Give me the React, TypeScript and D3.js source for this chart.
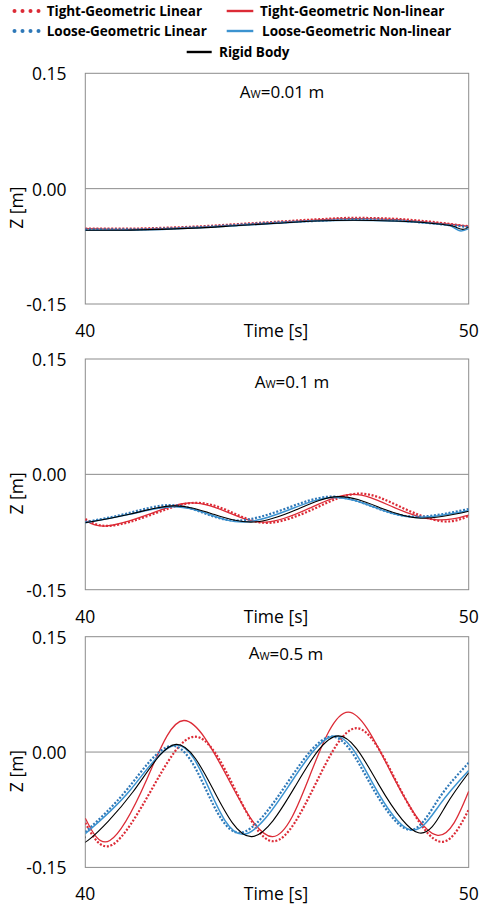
import React from "react";
import * as d3 from "d3";

type Pt = [number, number];

// x / y ticks
const timeTicks = [40, 50];
const zTicks = [-0.15, 0, 0.15];

// legend labels (series order)
const seriesNames = [
  "Tight-Geometric Linear",
  "Tight-Geometric Non-linear",
  "Loose-Geometric Linear",
  "Loose-Geometric Non-linear",
  "Rigid Body",
];

const waveAmps = ["0.01", "0.1", "0.5"];

// ---- Aw = 0.01 m  [time s, Z m]
const a001TightLinear: Pt[] = [[40, -0.052], [41, -0.052], [42, -0.051], [43, -0.049], [44, -0.046], [45, -0.043], [46, -0.040], [47, -0.038], [48, -0.039], [49, -0.043], [50, -0.049]];
const a001TightNonlinear: Pt[] = [[40, -0.052], [41, -0.053], [42, -0.052], [43, -0.050], [44, -0.047], [45, -0.044], [46, -0.041], [47, -0.039], [48, -0.040], [49, -0.044], [50, -0.049]];
const a001LooseLinear: Pt[] = [[40, -0.053], [41, -0.053], [42, -0.052], [43, -0.050], [44, -0.047], [45, -0.044], [46, -0.042], [47, -0.040], [48, -0.041], [49, -0.045], [50, -0.050]];
const a001LooseNonlinear: Pt[] = [[40, -0.054], [41, -0.054], [42, -0.053], [43, -0.051], [44, -0.048], [45, -0.045], [46, -0.042], [47, -0.041], [48, -0.042], [49, -0.045], [49.5, -0.048], [49.8, -0.055], [50, -0.052]];
const a001Rigid: Pt[] = [[40, -0.054], [41, -0.054], [42, -0.053], [43, -0.051], [44, -0.048], [45, -0.045], [46, -0.042], [47, -0.041], [48, -0.042], [49, -0.045], [49.6, -0.049], [49.85, -0.053], [50, -0.050]];

// ---- Aw = 0.1 m
const a01TightLinear: Pt[] = [[40, -0.058], [40.64, -0.067], [41.75, -0.052], [42.86, -0.037], [43.85, -0.050], [44.8, -0.063], [46.0, -0.044], [47.15, -0.025], [48.25, -0.043], [49.3, -0.061], [50, -0.054]];
const a01TightNonlinear: Pt[] = [[40, -0.060], [40.56, -0.067], [41.65, -0.052], [42.75, -0.037], [43.75, -0.050], [44.73, -0.062], [45.85, -0.044], [46.98, -0.026], [48.05, -0.043], [49.12, -0.059], [50, -0.053]];
const a01LooseLinear: Pt[] = [[40, -0.062], [41.08, -0.051], [42.17, -0.040], [43.08, -0.050], [44.0, -0.060], [45.2, -0.045], [46.4, -0.029], [47.5, -0.042], [48.6, -0.055], [50, -0.045]];
const a01LooseNonlinear: Pt[] = [[40, -0.063], [41.15, -0.052], [42.3, -0.042], [43.23, -0.052], [44.17, -0.062], [45.32, -0.046], [46.47, -0.030], [47.55, -0.043], [48.62, -0.056], [50, -0.047]];
const a01Rigid: Pt[] = [[40, -0.063], [41.15, -0.052], [42.3, -0.041], [43.35, -0.052], [44.4, -0.062], [45.5, -0.046], [46.6, -0.029], [47.67, -0.043], [48.75, -0.057], [50, -0.048]];

// ---- Aw = 0.5 m
const a05TightLinear: Pt[] = [[40, -0.092], [40.69, -0.121], [41.75, -0.047], [42.86, 0.020], [43.9, -0.048], [44.92, -0.116], [46.0, -0.042], [47.08, 0.031], [48.15, -0.042], [49.21, -0.116], [50, -0.075]];
const a05TightNonlinear: Pt[] = [[40, -0.086], [40.64, -0.115], [41.6, -0.036], [42.57, 0.041], [43.73, -0.035], [44.89, -0.110], [45.87, -0.029], [46.86, 0.052], [48.0, -0.029], [49.17, -0.108], [50, -0.051]];
const a05LooseLinear: Pt[] = [[40, -0.104], [41.1, -0.048], [42.25, 0.008], [43.14, -0.048], [44.03, -0.105], [45.23, -0.043], [46.43, 0.020], [47.43, -0.041], [48.43, -0.101], [49.2, -0.062], [50, -0.014]];
const a05LooseNonlinear: Pt[] = [[40, -0.106], [41.18, -0.049], [42.36, 0.009], [43.24, -0.049], [44.12, -0.107], [45.32, -0.043], [46.51, 0.021], [47.49, -0.040], [48.47, -0.101], [49.25, -0.068], [50, -0.024]];
const a05Rigid: Pt[] = [[40, -0.110], [40.12, -0.113], [41.24, -0.052], [42.37, 0.010], [43.35, -0.050], [44.34, -0.110], [45.47, -0.045], [46.6, 0.021], [47.65, -0.042], [48.69, -0.105], [49.4, -0.070], [50, -0.027]];

const RED = "#DC2B36";
const BLUE_DOT = "#2E78B8";
const BLUE = "#3C93D0";
const FONT = "'Open Sans', sans-serif";

const styles = [
  { color: RED, width: 2.2, dash: "2 1.7" },
  { color: RED, width: 1.3, dash: "" },
  { color: BLUE_DOT, width: 2.2, dash: "2 1.7" },
  { color: BLUE, width: 1.5, dash: "" },
  { color: "#000", width: 1.1, dash: "" },
];

const panelData = [
  [a001TightLinear, a001TightNonlinear, a001LooseLinear, a001LooseNonlinear, a001Rigid],
  [a01TightLinear, a01TightNonlinear, a01LooseLinear, a01LooseNonlinear, a01Rigid],
  [a05TightLinear, a05TightNonlinear, a05LooseLinear, a05LooseNonlinear, a05Rigid],
];

// layout of each panel
const layout = [
  { top: 73.3, titleX: 282, titleY: 91 },
  { top: 359, titleX: 292, titleY: 381 },
  { top: 636.7, titleX: 286, titleY: 652.5 },
];
const plotH = 230.7;
const left = 85.3;
const right = 468.7;

const x = d3.scaleLinear([40, 50], [left, right]);
// plain hyphen for the minus sign, as in the original
const fmt = d3
  .formatLocale({ decimal: ".", thousands: ",", grouping: [3], currency: ["", ""], minus: "-" })
  .format(".2f");

function Panel({ idx }: { idx: number }) {
  const { top, titleX, titleY } = layout[idx];
  const y = d3.scaleLinear([-0.15, 0.15], [top + plotH, top]);
  const line = d3
    .line<Pt>()
    .x((d) => x(d[0]))
    .y((d) => y(d[1]))
    .curve(idx === 0 ? d3.curveMonotoneX : d3.curveNatural);
  const bottom = top + plotH;
  return (
    <g>
      <rect x={left} y={top} width={right - left} height={plotH} fill="#fff" stroke="#8c8c8c" strokeWidth={1} />
      <line x1={left} x2={right} y1={y(0)} y2={y(0)} stroke="#8c8c8c" strokeWidth={1} />
      <defs>
        <clipPath id={"clip" + idx}>
          <rect x={left} y={top} width={right - left} height={plotH} />
        </clipPath>
      </defs>
      <g clipPath={`url(#clip${idx})`}>
        {panelData[idx].map((s, i) => (
          <path
            key={i}
            d={line(s) || ""}
            fill="none"
            stroke={styles[i].color}
            strokeWidth={styles[i].width}
            strokeDasharray={styles[i].dash || undefined}
          />
        ))}
      </g>
      {zTicks.map((t) => (
        <text key={t} x={66.5} y={y(t)} textAnchor="end" dominantBaseline="central" fontSize={17.5}>
          {fmt(t)}
        </text>
      ))}
      {timeTicks.map((t) => (
        <text key={t} x={x(t)} y={bottom + 26} textAnchor="middle" dominantBaseline="central" fontSize={17.5}>
          {t}
        </text>
      ))}
      <text x={276} y={bottom + 26} textAnchor="middle" dominantBaseline="central" fontSize={17.5}>
        Time [s]
      </text>
      <text
        transform={`translate(15.5,${y(0) + 19}) rotate(-90)`}
        textAnchor="middle"
        dominantBaseline="central"
        fontSize={17.5}
      >
        Z [m]
      </text>
      <text x={titleX} y={titleY} textAnchor="middle" dominantBaseline="central" fontSize={17}>
        A<tspan fontSize={11} dy={2}>W</tspan>
        <tspan dy={-2}>={waveAmps[idx]} m</tspan>
      </text>
    </g>
  );
}

// legend slots: [marker x0, marker x1, text x, row y]
const legendSlots = [
  [13, 40.5, 46.7, 11],
  [226.7, 253.3, 260, 11],
  [13, 40.5, 46.7, 31],
  [226.7, 253.3, 262, 31],
  [186.7, 211.7, 219, 52],
];

function Legend() {
  return (
    <g>
      {seriesNames.map((name, i) => {
        const [m0, m1, tx, ry] = legendSlots[i];
        const st = styles[i];
        const dotted = st.dash !== "";
        return (
          <g key={name}>
            {dotted ? (
              d3.range(4).map((k) => (
                <circle key={k} cx={m0 + 1.5 + k * 8} cy={ry} r={2} fill={st.color} />
              ))
            ) : (
              <line x1={m0} x2={m1} y1={ry} y2={ry} stroke={st.color} strokeWidth={2.4} />
            )}
            <text x={tx} y={ry} dominantBaseline="central" fontSize={13.5} fontWeight="bold">
              {name}
            </text>
          </g>
        );
      })}
    </g>
  );
}

export default function App() {
  return (
    <svg
      width={486}
      height={904}
      style={{ position: "absolute", left: 0, top: 0, fontFamily: FONT }}
      fill="#000"
    >
      <rect width={486} height={904} fill="#fff" />
      <Legend />
      {layout.map((_, i) => (
        <Panel key={i} idx={i} />
      ))}
    </svg>
  );
}
